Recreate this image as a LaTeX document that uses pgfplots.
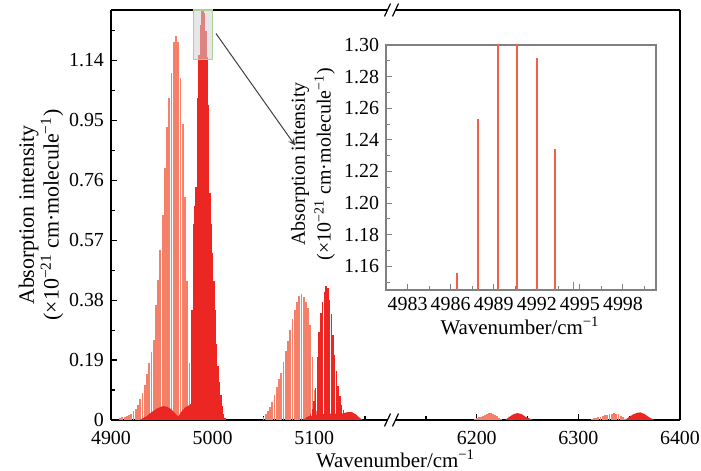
\documentclass[border=0pt]{standalone}
\usepackage{pgfplots}
\pgfplotsset{compat=1.18}
\usepackage{pgfplotstable}
\usepackage{fontspec}
\setmainfont{Liberation Serif}

\definecolor{salmon}{RGB}{245,128,106}
\definecolor{deepred}{RGB}{236,38,34}
\definecolor{insetline}{RGB}{242,96,72}
\definecolor{boxgreen}{RGB}{170,210,150}
\definecolor{framegray}{RGB}{128,128,128}

% stick positions (cm^-1) and intensities (x1e-21 cm/molecule)
\pgfplotstableread{
x y
4909.0 0.006
4911.2 0.008
4913.4 0.010
4915.6 0.012
4917.8 0.015
4920.0 0.020
4922.2 0.027
4924.4 0.035
4926.6 0.048
4928.8 0.065
4931.0 0.085
4933.2 0.110
4935.4 0.145
4937.6 0.180
4939.8 0.215
4942.0 0.255
4944.2 0.365
4946.4 0.445
4948.6 0.540
4950.8 0.650
4953.0 0.800
4955.2 0.930
4957.4 1.020
4959.6 1.100
4961.8 1.200
4964.0 1.219
4966.2 1.200
4968.4 1.085
4970.6 0.940
4972.8 0.706
4975.0 0.440
4977.2 0.180
}\bandA

\pgfplotstableread{
x y
4978.34 0.050
4979.69 0.350
4981.04 0.620
4982.39 0.680
4983.74 0.740
4985.09 1.020
4986.44 1.156
4987.89 1.253
4989.31 1.330
4990.64 1.340
4991.99 1.292
4993.25 1.234
4994.56 1.150
4995.90 1.000
4997.25 0.720
4998.60 0.620
4999.95 0.530
5001.30 0.440
5002.65 0.350
5004.00 0.240
5005.35 0.170
5006.70 0.120
5008.05 0.080
5009.40 0.045
5010.75 0.020
5012.10 0.006
}\bandB

\pgfplotstableread{
x y
4928 0
4935 0.012
4940 0.025
4945 0.036
4950 0.043
4952 0.044
4955 0.042
4959 0.035
4963 0.022
4966 0.011
4969 0.025
4973 0.040
4977 0.047
4980 0.045
4984 0.030
4987 0.012
4990 0
}\humpsA

\pgfplotstableread{
x y
5050.0 0.010
5052.2 0.018
5054.4 0.028
5056.6 0.040
5058.8 0.058
5061.0 0.080
5063.2 0.105
5065.4 0.130
5067.6 0.150
5069.8 0.185
5072.0 0.220
5074.2 0.250
5076.4 0.285
5078.6 0.320
5080.8 0.350
5083.0 0.375
5085.2 0.392
5087.4 0.399
5089.6 0.390
5091.8 0.375
5094.0 0.355
5096.2 0.300
5098.4 0.200
5100.6 0.095
5102.8 0.030
}\bandC

\pgfplotstableread{
x y
5093.0 0.008
5094.7 0.012
5096.4 0.020
5098.1 0.035
5099.8 0.060
5101.5 0.100
5103.2 0.200
5104.9 0.280
5106.6 0.340
5108.3 0.375
5110.0 0.405
5111.7 0.425
5113.4 0.420
5115.1 0.380
5116.8 0.335
5118.5 0.270
5120.2 0.205
5121.9 0.155
5123.6 0.108
5125.3 0.075
5127.0 0.048
5128.7 0.032
5130.4 0.020
5132.1 0.012
}\bandD

\pgfplotstableread{
x y
5088 0
5095 0.010
5100 0.016
5110 0.020
5120 0.020
5128 0.021
5133 0.025
5137 0.025
5141 0.018
5145 0.006
5148 0
}\humpB

\pgfplotstableread{
x y
6198 0.003
6200 0.005
6202 0.008
6204 0.011
6206 0.014
6208 0.017
6210 0.019
6212 0.021
6214 0.021
6216 0.020
6218 0.017
6220 0.012
6222 0.006
6224 0.003
6313.0 0.003
6315.2 0.005
6317.4 0.007
6319.6 0.009
6321.8 0.011
6324.0 0.013
6326.2 0.015
6328.4 0.017
6330.6 0.019
6332.8 0.020
6335.0 0.021
6337.2 0.020
6339.4 0.018
6341.6 0.014
6343.8 0.009
6346.0 0.004
}\bandHigh

\pgfplotstableread{
x y
6228 0
6232 0.010
6236 0.018
6240 0.022
6244 0.019
6248 0.010
6253 0.003
6256 0
}\humpC

\pgfplotstableread{
x y
6346 0
6350 0.010
6354 0.018
6358 0.023
6361 0.024
6365 0.019
6369 0.010
6373 0.003
6375 0
}\humpD

\pgfplotsset{
  every axis/.append style={
    font=\fontsize{10}{12}\selectfont,
    scale only axis,
    scaled ticks=false,
    tick align=inside,
    major tick length=3bp,
    minor tick length=1.8bp,
    /pgf/number format/.cd, 1000 sep={}, assume math mode=true,
  },
}

\begin{document}
\begin{tikzpicture}
\useasboundingbox (-55.5bp,-25.5bp) rectangle (295bp,210bp);
% ===== left part of the broken axis =====
\begin{axis}[
  name=a1, at={(0,0)}, anchor=south west,
  width=142.25bp, height=205bp,
  xmin=4900, xmax=5180, ymin=0, ymax=1.30,
  axis x line*=box, axis y line*=left,
  xtick pos=lower, ytick pos=left,
  axis line style={line width=0.7bp},
  every tick/.style={black, line width=0.6bp},
  xticklabel style={yshift=-2bp},
  xtick={4900,5000,5100}, minor xtick={4950,5050,5150},
  ytick={0,0.19,0.38,0.57,0.76,0.95,1.14},
  yticklabels={0,0.19,0.38,0.57,0.76,0.95,1.14},
  minor ytick={0.095,0.285,0.475,0.665,0.855,1.045,1.235},
]
\addplot[deepred, line width=0.4bp] coordinates {(4900,0) (5180,0)};
\addplot[ycomb, salmon, line width=0.9bp] table {\bandA};
\addplot[ycomb, deepred, line width=0.8bp] table {\bandB};
\addplot[fill=deepred, draw=none] table {\humpsA} \closedcycle;
\addplot[ycomb, salmon, line width=0.9bp] table {\bandC};
\addplot[ycomb, deepred, line width=0.7bp] table {\bandD};
\addplot[fill=deepred, draw=none] table {\humpB} \closedcycle;
\draw[boxgreen, fill=gray!35, fill opacity=0.55, line width=0.6bp]
  (axis cs:4981,1.142) rectangle (axis cs:5000.1,1.30);
\coordinate (arrS) at (axis cs:5003.3,1.2255);
\coordinate (arrE) at (axis cs:5081.1,0.871);
\end{axis}

% ===== right part of the broken axis =====
\begin{axis}[
  name=a2, at={(a1.south east)}, anchor=south west,
  width=142.25bp, height=205bp,
  xmin=6120, xmax=6400, ymin=0, ymax=1.30,
  axis x line*=box, axis y line*=right,
  xtick pos=lower,
  axis line style={line width=0.7bp},
  every tick/.style={black, line width=0.6bp},
  xticklabel style={yshift=-2bp},
  xtick={6200,6300,6400}, minor xtick={6150,6250,6350},
  ytick=\empty,
]
\addplot[deepred, line width=0.4bp] coordinates {(6120,0) (6400,0)};
\addplot[ycomb, salmon, line width=0.9bp] table {\bandHigh};
\addplot[fill=deepred, draw=none] table {\humpC} \closedcycle;
\addplot[fill=deepred, draw=none] table {\humpD} \closedcycle;
\end{axis}

\node[font=\fontsize{10.5}{12}\selectfont] at (142.25bp,-19.5bp) {Wavenumber/cm\textsuperscript{−1}};
\node[rotate=90, align=center, font=\fontsize{11}{11}\selectfont] at (-35bp,102.5bp)
  {Absorption intensity\\(×10\textsuperscript{−21} cm·molecule\textsuperscript{−1})};

% break marks
\foreach \p in {a1.south east, a1.north east}{
  \fill[white] ([xshift=-3.6bp,yshift=-1.2bp]\p) rectangle ([xshift=0.4bp,yshift=1.2bp]\p);
  \draw[line width=0.6bp] ([xshift=-5.5bp,yshift=-3.2bp]\p) -- ([xshift=-2.5bp,yshift=3.2bp]\p);
  \draw[line width=0.6bp] ([xshift=-1.5bp,yshift=-3.2bp]\p) -- ([xshift=1.5bp,yshift=3.2bp]\p);
}

% ===== inset: zoom on the strongest lines =====
\begin{axis}[
  name=ins, at={(137.5bp,65bp)}, anchor=south west,
  width=135bp, height=122.5bp,
  xmin=4981.5, xmax=5000.3, ymin=1.145, ymax=1.30,
  axis background/.style={fill=white},
  axis line style={framegray, line width=0.6bp},
  every tick/.style={framegray, line width=0.5bp},
  xtick pos=lower, ytick pos=left,
  xtick={4983,4986,4989,4992,4995,4998},
  minor xtick={4984.5,4987.5,4990.5,4993.5,4996.5,4999.5},
  ytick={1.16,1.18,1.20,1.22,1.24,1.26,1.28,1.30},
  minor ytick={1.15,1.17,1.19,1.21,1.23,1.25,1.27,1.29},
  yticklabel style={/pgf/number format/.cd, fixed, fixed zerofill, precision=2},
]
\addplot[ycomb, insetline, line width=0.85bp] table {\bandB};
\end{axis}
\node[font=\fontsize{10.5}{12}\selectfont] at (204.5bp,47bp) {Wavenumber/cm\textsuperscript{−1}};
\node[rotate=90, align=center, font=\fontsize{10}{13}\selectfont] at (101bp,128bp)
  {Absorption intensity\\(×10\textsuperscript{−21} cm·molecule\textsuperscript{−1})};

\draw[black!75, line width=0.5bp, -stealth] (arrS) -- (arrE);
\end{tikzpicture}
\end{document}
